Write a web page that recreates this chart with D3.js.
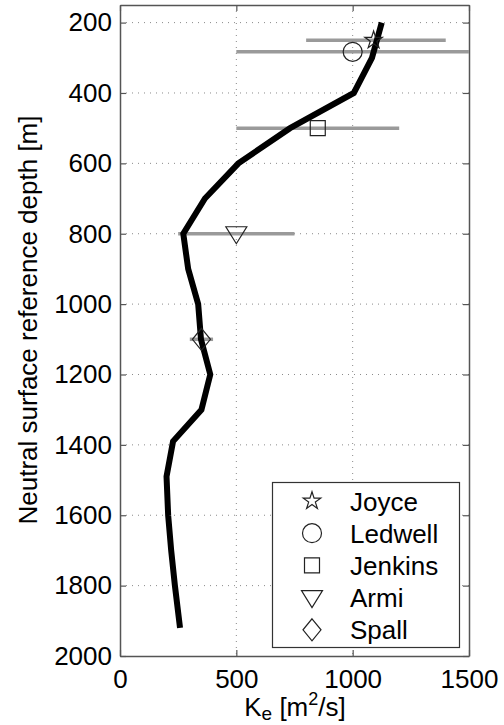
<!DOCTYPE html>
<html>
<head>
<meta charset="utf-8">
<script src="https://cdn.jsdelivr.net/npm/d3@7"></script>
<style>
  html, body { margin: 0; padding: 0; background: #fff; }
  svg { display: block; font-family: "Liberation Sans", Arial, Helvetica, sans-serif; }
</style>
</head>
<body>
<svg id="chart" width="504" height="725"></svg>
<script>
// ---- data ----
const curveDepth = [200, 300, 400, 500, 600, 700, 800, 900, 1000, 1100, 1200, 1300, 1390, 1490, 1600, 1700, 1800, 1920];
const curveK     = [1125, 1083, 1005, 731, 509, 365, 272, 293, 336, 348, 388, 350, 228, 200, 207, 220, 236, 258];

const obsNames  = ["Joyce", "Ledwell", "Jenkins", "Armi", "Spall"];
const obsK      = [1090, 1000, 850, 500, 350];
const obsDepth  = [250, 283, 500, 800, 1100];
const obsLow    = [800, 500, 500, 250, 300];
const obsHigh   = [1400, 1500, 1200, 750, 400];
const obsSymbol = ["star", "circle", "square", "triangleDown", "diamond"];

const xTicks = [0, 500, 1000, 1500];
const yTicks = [200, 400, 600, 800, 1000, 1200, 1400, 1600, 1800, 2000];

(function () {
// ---- layout ----
const svg = d3.select("#chart");
const pL = 120, pR = 469, pT = 5, pB = 656;
const FS = 26;
const x = d3.scaleLinear().domain([0, 1500]).range([pL, pR]);
const y = d3.scaleLinear().domain([150, 2000]).range([pT, pB]);
const fmt = d3.format("d");

// grid
const grid = svg.append("g").attr("stroke", "#8a8a8a").attr("stroke-width", 1).attr("stroke-dasharray", "1,5");
grid.selectAll("line.gx").data(xTicks.filter(d => d > 0 && d < 1500)).join("line")
  .attr("x1", d => x(d)).attr("x2", d => x(d)).attr("y1", pT).attr("y2", pB);
grid.selectAll("line.gy").data(yTicks.filter(d => d < 2000)).join("line")
  .attr("y1", d => y(d)).attr("y2", d => y(d)).attr("x1", pL).attr("x2", pR);

// axes (MATLAB style: inward ticks on all sides)
const axCol = "#555";
const axL = svg.append("g").attr("transform", `translate(${pL},0)`)
  .call(d3.axisLeft(y).tickValues(yTicks).tickFormat(fmt).tickSizeInner(-6).tickSizeOuter(0).tickPadding(8));
const axR = svg.append("g").attr("transform", `translate(${pR},0)`)
  .call(d3.axisRight(y).tickValues(yTicks).tickSizeInner(-6).tickSizeOuter(0).tickFormat(""));
const axB = svg.append("g").attr("transform", `translate(0,${pB})`)
  .call(d3.axisBottom(x).tickValues(xTicks).tickFormat(fmt).tickSizeInner(-6).tickSizeOuter(0).tickPadding(14));
const axT = svg.append("g").attr("transform", `translate(0,${pT})`)
  .call(d3.axisTop(x).tickValues(xTicks).tickSizeInner(-6).tickSizeOuter(0).tickFormat(""));
[axL, axR, axB, axT].forEach(a => {
  a.selectAll(".domain").attr("stroke", axCol).attr("stroke-width", 1.5);
  a.selectAll(".tick line").attr("stroke", axCol).attr("stroke-width", 1.2);
  a.selectAll("text").attr("fill", "#000").attr("font-size", FS)
    .attr("font-family", "Liberation Sans, Arial, sans-serif");
});

// error bars (gray)
const bars = svg.append("g");
bars.selectAll("line").data(obsNames).join("line")
  .attr("x1", (d, i) => x(obsLow[i])).attr("x2", (d, i) => x(obsHigh[i]))
  .attr("y1", (d, i) => y(obsDepth[i])).attr("y2", (d, i) => y(obsDepth[i]))
  .attr("stroke", "#9a9a9a").attr("stroke-width", 3.5);

// curve
const line = d3.line().x((d, i) => x(curveK[i])).y(d => y(d));
svg.append("path").datum(curveDepth).attr("d", line)
  .attr("fill", "none").attr("stroke", "#000").attr("stroke-width", 6)
  .attr("stroke-linejoin", "miter").attr("stroke-linecap", "butt");

// marker shapes
function markerPath(kind) {
  switch (kind) {
    case "star": return d3.symbol().type(d3.symbolStar).size(95)();
    case "circle": return d3.symbol().type(d3.symbolCircle).size(Math.PI * 9.5 * 9.5)();
    case "square": return "M-7.5,-7.5H7.5V7.5H-7.5Z";
    case "triangleDown": return "M-10.5,-7L10.5,-7L0,10Z";
    case "diamond": return "M0,-11L9,0L0,11L-9,0Z";
  }
}
const marks = svg.append("g");
marks.selectAll("path").data(obsNames).join("path")
  .attr("transform", (d, i) => `translate(${x(obsK[i])},${y(obsDepth[i])})`)
  .attr("d", (d, i) => markerPath(obsSymbol[i]))
  .attr("fill", "none").attr("stroke", "#222").attr("stroke-width", 1.2);

// legend
const lg = svg.append("g");
lg.append("rect").attr("x", 272.5).attr("y", 482.5).attr("width", 187).attr("height", 165)
  .attr("fill", "#fff").attr("stroke", "#333").attr("stroke-width", 1.2);
const items = lg.selectAll("g.item").data(obsNames).join("g")
  .attr("transform", (d, i) => `translate(312,${501 + i * 32.2})`);
items.append("path").attr("d", (d, i) => markerPath(obsSymbol[i]))
  .attr("fill", "none").attr("stroke", "#222").attr("stroke-width", 1.2);
items.append("text").attr("x", 38).attr("y", 9.5).attr("font-size", FS).attr("fill", "#000").text(d => d);

// axis labels
const xl = svg.append("text").attr("x", 295).attr("y", 716).attr("text-anchor", "middle")
  .attr("font-size", FS).attr("fill", "#000");
xl.append("tspan").text("K");
xl.append("tspan").attr("font-size", 19).attr("dy", 4).text("e");
xl.append("tspan").attr("dy", -4).text(" [m");
xl.append("tspan").attr("font-size", 18).attr("dy", -11).text("2");
xl.append("tspan").attr("dy", 11).text("/s]");

svg.append("text").attr("transform", "translate(37,320) rotate(-90)")
  .attr("text-anchor", "middle").attr("font-size", FS).attr("fill", "#000")
  .text("Neutral surface reference depth [m]");
})();
</script>
</body>
</html>
